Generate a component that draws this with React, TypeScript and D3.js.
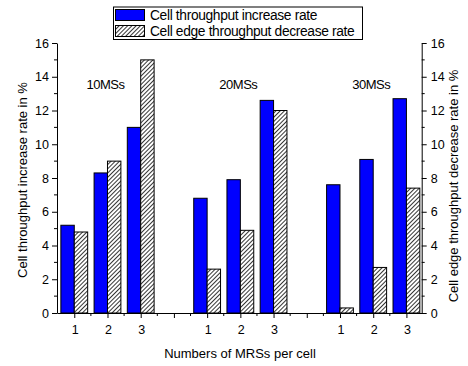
import { useEffect, useRef } from "react"
import * as d3 from "d3"

// slot positions on the x axis (4 and 8 are empty gaps between groups)
const positions = [1, 2, 3, 5, 6, 7, 9, 10, 11]
const mrsLabels = ["1", "2", "3", "1", "2", "3", "1", "2", "3"]
const groupLabels = ["10MSs", "20MSs", "30MSs"]
const groupCenters = [2, 6, 10]
const cellIncrease = [5.2, 8.3, 11.0, 6.8, 7.9, 12.6, 7.6, 9.1, 12.7]
const edgeDecrease = [4.8, 9.0, 15.0, 2.6, 4.9, 12.0, 0.3, 2.7, 7.4]
const yTicks = [0, 2, 4, 6, 8, 10, 12, 14, 16]

const App = () => {
  const svgRef = useRef<SVGSVGElement>(null)

  useEffect(() => {
    const svg = d3.select(svgRef.current)
    svg.selectAll("*").remove()

    const left = 57, right = 421.7, top = 43, bottom = 313
    const font = "Liberation Sans, Arial, sans-serif"

    const x = d3.scaleLinear().domain([0.48, 11.46]).range([left, right])
    const yL = d3.scaleLinear().domain([0, 16]).range([bottom, top])
    const yR = d3.scaleLinear().domain([0, 16]).range([bottom, top])
    const barW = 13.4

    // hatch pattern
    const defs = svg.append("defs")
    const pat = defs.append("pattern")
      .attr("id", "hatch")
      .attr("patternUnits", "userSpaceOnUse")
      .attr("width", 3)
      .attr("height", 3)
      .attr("patternTransform", "rotate(45)")
    pat.append("rect").attr("width", 3).attr("height", 3).attr("fill", "#fff")
    pat.append("line")
      .attr("x1", 0).attr("y1", 0).attr("x2", 0).attr("y2", 3)
      .attr("stroke", "#111").attr("stroke-width", 1.7)

    // bars
    svg.append("g").selectAll("rect")
      .data(cellIncrease)
      .join("rect")
      .attr("x", (d, i) => x(positions[i]) - barW)
      .attr("y", d => yL(d))
      .attr("width", barW)
      .attr("height", d => yL(0) - yL(d))
      .attr("fill", "#0000ff")
      .attr("stroke", "#000")
      .attr("stroke-width", 1)

    svg.append("g").selectAll("rect")
      .data(edgeDecrease)
      .join("rect")
      .attr("x", (d, i) => x(positions[i]))
      .attr("y", d => yR(d))
      .attr("width", barW)
      .attr("height", d => yR(0) - yR(d))
      .attr("fill", "url(#hatch)")
      .attr("stroke", "#000")
      .attr("stroke-width", 1)

    // left axis
    const gL = svg.append("g").attr("transform", `translate(${left},0)`)
    gL.call(d3.axisLeft(yL).tickValues(yTicks).tickSize(5).tickPadding(3).tickSizeOuter(0))
    gL.append("g").selectAll("line")
      .data(d3.range(1, 16, 2))
      .join("line")
      .attr("x1", -3).attr("x2", 0)
      .attr("y1", d => yL(d)).attr("y2", d => yL(d))
      .attr("stroke", "#000")

    // right axis
    const gR = svg.append("g").attr("transform", `translate(${right},0)`)
    gR.call(d3.axisRight(yR).tickValues(yTicks).tickSize(5).tickPadding(4).tickSizeOuter(0))
    gR.append("g").selectAll("line")
      .data(d3.range(1, 16, 2))
      .join("line")
      .attr("x1", 0).attr("x2", 3)
      .attr("y1", d => yR(d)).attr("y2", d => yR(d))
      .attr("stroke", "#000")

    // bottom axis
    const gB = svg.append("g").attr("transform", `translate(0,${bottom})`)
    gB.call(d3.axisBottom(x).tickValues(d3.range(1, 12)).tickSize(5).tickSizeOuter(0).tickFormat(() => ""))
    gB.append("g").selectAll("line")
      .data(d3.range(1.5, 11, 1))
      .join("line")
      .attr("x1", d => x(d)).attr("x2", d => x(d))
      .attr("y1", 0).attr("y2", 3)
      .attr("stroke", "#000")
    gB.append("g").selectAll("text")
      .data(mrsLabels)
      .join("text")
      .attr("x", (d, i) => x(positions[i]) + 1)
      .attr("y", 21)
      .attr("text-anchor", "middle")
      .text(d => d)

    svg.selectAll(".domain").attr("stroke", "#000").attr("stroke-width", 1)
    svg.selectAll(".tick line").attr("stroke", "#000")
    svg.selectAll("text").attr("font-family", font).attr("font-size", 12.5).attr("fill", "#000")

    // group labels
    svg.append("g").selectAll("text")
      .data(groupLabels)
      .join("text")
      .attr("x", (d, i) => x(groupCenters[i]) - 2)
      .attr("y", 89)
      .attr("text-anchor", "middle")
      .attr("font-family", font)
      .attr("font-size", 13)
      .attr("letter-spacing", -0.5)
      .text(d => d)

    // axis titles
    svg.append("text")
      .attr("transform", `translate(27,180) rotate(-90)`)
      .attr("text-anchor", "middle")
      .attr("font-family", font).attr("font-size", 13)
      .text("Cell throughput increase rate in %")
    svg.append("text")
      .attr("transform", `translate(458,186) rotate(-90)`)
      .attr("text-anchor", "middle")
      .attr("font-family", font).attr("font-size", 13)
      .text("Cell edge throughput decrease rate in %")
    svg.append("text")
      .attr("x", 240).attr("y", 358)
      .attr("text-anchor", "middle")
      .attr("font-family", font).attr("font-size", 13)
      .text("Numbers of MRSs per cell")

    // legend
    const lg = svg.append("g")
    lg.append("rect")
      .attr("x", 113.5).attr("y", 7).attr("width", 249).attr("height", 32.5)
      .attr("fill", "#fff").attr("stroke", "#000")
    const items = [
      { label: "Cell throughput increase rate", fill: "#0000ff" },
      { label: "Cell edge throughput decrease rate", fill: "url(#hatch)" },
    ]
    items.forEach((it, i) => {
      lg.append("rect")
        .attr("x", 115.5).attr("y", 9.5 + i * 16).attr("width", 29).attr("height", 11)
        .attr("fill", it.fill).attr("stroke", "#000")
      lg.append("text")
        .attr("x", 150).attr("y", 20 + i * 16)
        .attr("font-family", font).attr("font-size", 13.8)
        .attr("letter-spacing", -0.35)
        .text(it.label)
    })
  }, [])

  return (
    <svg ref={svgRef} width={468} height={366} style={{ position: "absolute", left: 0, top: 0 }} />
  )
}

export default App
